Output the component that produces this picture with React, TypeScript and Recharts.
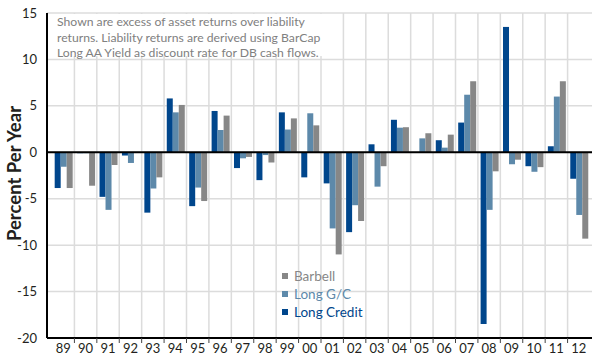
import React from "react";
import {
  BarChart,
  Bar,
  XAxis,
  YAxis,
  CartesianGrid,
  ReferenceLine,
  Legend,
} from "recharts";

const years = [
  "89", "90", "91", "92", "93", "94", "95", "96", "97", "98", "99", "00",
  "01", "02", "03", "04", "05", "06", "07", "08", "09", "10", "11", "12",
];
const longCredit = [
  -3.85, -0.1, -4.8, -0.35, -6.5, 5.8, -5.8, 4.45, -1.7, -3.0, 4.3, -2.7,
  -3.35, -8.6, 0.86, 3.5, 0, 1.3, 3.2, -18.5, 13.5, -1.5, 0.65, -2.85,
];
const longGC = [
  -1.55, -0.1, -6.2, -1.15, -3.9, 4.3, -3.8, 2.4, -0.65, -0.3, 2.45, 4.2,
  -8.2, -5.7, -3.7, 2.65, 1.5, 0.5, 6.2, -6.2, -1.3, -2.1, 6.0, -6.75,
];
const barbell = [
  -3.85, -3.6, -1.37, 0, -2.7, 5.1, -5.25, 3.95, -0.5, -1.1, 3.65, 2.9,
  -11.0, -7.4, -1.5, 2.7, 2.05, 1.9, 7.65, -2.05, -0.8, -1.6, 7.65, -9.3,
];
const yTicks = [-20, -15, -10, -5, 0, 5, 10, 15];
const noteLines = [
  "Shown are excess of asset returns over liability",
  "returns. Liability returns are derived using BarCap",
  "Long AA Yield as discount rate for DB cash flows.",
];
// legend reads top to bottom in this order
const legendOrder = ["Barbell", "Long G/C", "Long Credit"];

const FONT = "Lato, 'Open Sans', sans-serif";
const PAD_L = 5;
const PAD_R = 2;

const data = years.map((year, i) => ({
  year,
  longCredit: longCredit[i],
  longGC: longGC[i],
  barbell: barbell[i],
}));

const XTick = (props: any) => {
  const { x, y, payload, index } = props;
  const half = payload && payload.offset ? payload.offset : 11.2;
  return (
    <g>
      <text
        x={x}
        y={y}
        dy={10}
        textAnchor="middle"
        fontSize={13}
        fontFamily={FONT}
        fill="#231f20"
      >
        {payload.value}
      </text>
      {index > 0 && (
        <line x1={x - half} x2={x - half} y1={y - 5} y2={y} stroke="#444" strokeWidth={1} />
      )}
    </g>
  );
};

const renderLegend = (props: any) => {
  const payload = props.payload || [];
  const items = legendOrder
    .map((name) => payload.find((p: any) => p.value === name))
    .filter(Boolean);
  return (
    <div style={{ fontFamily: FONT, fontSize: 13.5 }}>
      {items.map((it: any) => (
        <div
          key={it.value}
          style={{ display: "flex", alignItems: "center", height: 18, color: it.color }}
        >
          <span
            style={{ width: 6, height: 6, background: it.color, marginRight: 6, display: "inline-block" }}
          />
          {it.value}
        </div>
      ))}
    </div>
  );
};

const App: React.FC = () => {
  return (
    <div style={{ position: "absolute", left: 0, top: 0, width: 600, height: 362, background: "#fff" }}>
      <BarChart
        width={600}
        height={362}
        data={data}
        margin={{ top: 13, right: 8, bottom: 0, left: 0 }}
        barCategoryGap="12%"
        barGap={0}
      >
        <CartesianGrid
          stroke="#dcdcdc"
          strokeWidth={1.5}
          verticalCoordinatesGenerator={(args: any) => {
            const off = (args && args.offset) || { left: 47, width: 545 };
            const step = (off.width - PAD_L - PAD_R) / years.length;
            return years.slice(1).map((_, i) => off.left + PAD_L + (i + 1) * step);
          }}
        />
        <XAxis
          dataKey="year"
          padding={{ left: PAD_L, right: PAD_R }}
          axisLine={{ stroke: "#000", strokeWidth: 2 }}
          tickLine={false}
          tickSize={5}
          tickMargin={0}
          interval={0}
          height={24}
          tick={<XTick />}
        />
        <XAxis
          xAxisId="top"
          dataKey="year"
          orientation="top"
          height={0}
          tick={false}
          tickLine={false}
          axisLine={{ stroke: "#000", strokeWidth: 2 }}
        />
        <YAxis
          domain={[-20, 15]}
          ticks={yTicks}
          width={47}
          tickLine={false}
          axisLine={{ stroke: "#000", strokeWidth: 2 }}
          tickMargin={4}
          tick={{ fontSize: 13, fontFamily: FONT, fill: "#231f20" }}
          label={{
            content: (p: any) => {
              const vb = p.viewBox || { x: 0, y: 13, width: 47, height: 325 };
              const cx = vb.x + 14;
              const cy = vb.y + vb.height / 2 - 2;
              return (
                <text
                  x={cx}
                  y={cy}
                  transform={`rotate(-90 ${cx} ${cy})`}
                  textAnchor="middle"
                  dominantBaseline="central"
                  fontSize={18.5}
                  fontWeight="bold"
                  fontFamily={FONT}
                  fill="#231f20"
                >
                  Percent Per Year
                </text>
              );
            },
          }}
        />
        <YAxis
          yAxisId="right"
          orientation="right"
          domain={[-20, 15]}
          width={0}
          tick={false}
          tickLine={false}
          axisLine={{ stroke: "#000", strokeWidth: 2 }}
        />
        <ReferenceLine y={0} stroke="#000" strokeWidth={2} />
        <Bar dataKey="longCredit" name="Long Credit" fill="#00468c" isAnimationActive={false} />
        <Bar dataKey="longGC" name="Long G/C" fill="#5d89aa" isAnimationActive={false} />
        <Bar dataKey="barbell" name="Barbell" fill="#878787" isAnimationActive={false} />
        <Legend
          layout="vertical"
          align="center"
          verticalAlign="middle"
          content={renderLegend}
          wrapperStyle={{ left: 282, top: 267, width: "auto", height: "auto" }}
        />
      </BarChart>
      <div
        style={{
          position: "absolute",
          left: 48,
          top: 14,
          width: 286,
          height: 42,
          background: "#fff",
          paddingLeft: 9,
          boxSizing: "border-box",
          fontFamily: FONT,
          fontSize: 12.2,
          lineHeight: "15.5px",
          color: "#808080",
        }}
      >
        {noteLines.map((l) => (
          <div key={l} style={{ whiteSpace: "nowrap" }}>{l}</div>
        ))}
      </div>
    </div>
  );
};

export default App;
